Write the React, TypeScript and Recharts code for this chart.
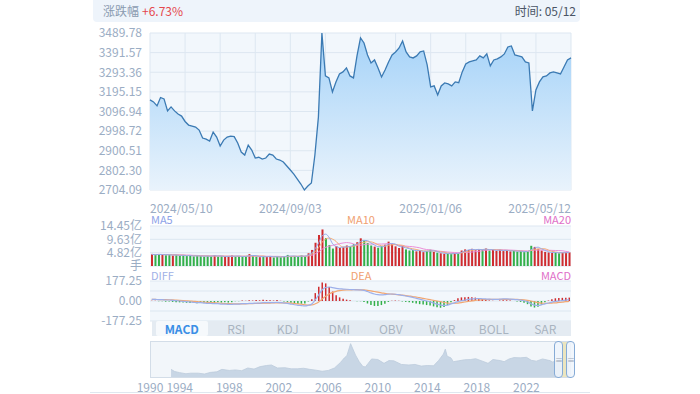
import React from "react";
import { ComposedChart, Area, Line, Bar, Cell, XAxis, YAxis, CartesianGrid } from "recharts";

// dates shown under the price panel (index into the series)
const dateLabels = ["2024/05/10", "2024/09/03", "2025/01/06", "2025/05/12"];
const dateTickIdx = [0, 40, 80, 120];
const gridIdx = [0, 10, 20, 30, 40, 50, 60, 70, 80, 90, 100, 110, 120];
const priceTicks = [2704.09, 2802.3, 2900.51, 2998.72, 3096.94, 3195.15, 3293.36, 3391.57, 3489.78];

const close = [
  3155, 3145, 3125, 3167, 3160, 3100, 3120, 3100, 3084, 3074,
  3047, 3029, 3024, 3019, 3004, 2964, 2959, 2949, 2994, 2969,
  2924, 2954, 2969, 2974, 2971, 2939, 2894, 2879, 2929, 2904,
  2864, 2868, 2859, 2864, 2884, 2879, 2859, 2854, 2844, 2824,
  2804, 2784, 2759, 2734, 2704.09, 2724, 2739, 2879, 3069, 3489.78,
  3275, 3265, 3195, 3245, 3285, 3295, 3315, 3275, 3265, 3375,
  3465, 3440, 3380, 3340, 3355, 3315, 3270, 3305, 3345, 3380,
  3395, 3415, 3450, 3395, 3370, 3365, 3375, 3395, 3400, 3330,
  3220, 3225, 3180, 3225, 3240, 3235, 3225, 3245, 3241, 3295,
  3335, 3345, 3350, 3355, 3375, 3365, 3385, 3325, 3355, 3360,
  3370, 3385, 3420, 3425, 3380, 3375, 3370, 3345, 3340, 3100,
  3205, 3245, 3270, 3275, 3290, 3295, 3290, 3285, 3320, 3355,
  3365,
];

// volume, 亿手
const volume = [
  4.2, 4.0, 4.3, 4.1, 3.9, 4.2, 3.8, 4.0, 3.7, 3.9,
  3.6, 3.8, 3.5, 3.7, 3.6, 3.4, 3.7, 3.5, 3.9, 3.4,
  3.6, 3.3, 3.5, 3.8, 3.4, 3.6, 3.3, 3.5, 4.3, 3.6,
  3.4, 3.2, 3.5, 3.3, 3.6, 3.1, 3.4, 3.2, 3.5, 4.0,
  3.3, 3.6, 3.4, 3.8, 3.5, 4.6, 5.8, 8.4, 11.2, 13.2,
  10.1, 7.6, 6.3, 7.2, 6.5, 6.8, 7.4, 7.0, 7.9, 8.6,
  10.0, 9.2, 8.3, 7.4, 7.0, 6.6, 7.2, 7.7, 8.8, 7.9,
  7.1, 6.5, 7.2, 6.0, 5.6, 5.8, 5.3, 5.6, 5.0, 5.4,
  5.9, 5.1, 4.8, 4.6, 4.4, 4.5, 4.3, 4.7, 4.5, 5.6,
  6.0, 5.8, 6.2, 5.7, 6.1, 5.9, 6.3, 5.6, 5.8, 5.5,
  5.9, 5.4, 5.7, 5.3, 5.5, 5.2, 5.4, 5.0, 5.3, 7.3,
  6.9, 6.2, 5.6, 5.1, 4.9, 4.7, 5.0, 4.6, 4.8, 5.0,
  4.9,
];
const volTicks = [0, 4.82, 9.63, 14.45];

const diff = [
  15, 15, 12, 12, 9, 9, 6, 3, 0, -3,
  -6, -9, -12, -15, -15, -18, -21, -21, -24, -24,
  -27, -27, -30, -30, -27, -27, -24, -24, -21, -21,
  -18, -18, -15, -15, -15, -15, -12, -15, -18, -21,
  -27, -33, -38, -41, -44, -38, -27, 10, 55, 100,
  120, 124, 118, 112, 108, 106, 104, 102, 100, 99,
  98, 94, 84, 72, 62, 56, 54, 56, 60, 62,
  60, 56, 50, 44, 38, 32, 24, 16, 8, 0,
  -8, -18, -28, -36, -40, -36, -26, -16, -6, 2,
  8, 14, 18, 20, 22, 20, 18, 16, 15, 14,
  16, 18, 18, 17, 15, 12, 8, 2, -8, -24,
  -36, -40, -34, -26, -18, -10, -4, 0, 4, 8,
  12,
];
const dea = [
  14, 14, 13, 13, 12, 11, 10, 8, 6, 4,
  2, 0, -3, -5, -8, -10, -12, -14, -16, -18,
  -20, -22, -23, -25, -26, -26, -26, -25, -24, -23,
  -22, -21, -20, -19, -18, -17, -16, -16, -16, -17,
  -19, -22, -25, -29, -33, -36, -35, -25, -8, 18,
  42, 62, 76, 86, 92, 96, 98, 99, 100, 100,
  99, 98, 95, 90, 84, 78, 72, 68, 64, 61,
  58, 55, 52, 48, 44, 40, 35, 30, 24, 18,
  12, 6, 0, -6, -13, -18, -20, -20, -18, -14,
  -9, -4, 1, 5, 9, 11, 13, 14, 14, 14,
  14, 15, 15, 15, 15, 14, 12, 10, 6, 0,
  -7, -14, -18, -20, -20, -18, -16, -13, -10, -6,
  -3,
];
const macdTicks = [-177.25, 0, 177.25];

const tabs = ["MACD", "RSI", "KDJ", "DMI", "OBV", "W&R", "BOLL", "SAR"];

// long-range index history for the navigator
const navYears = [
  1993.3, 1993.6, 1994.0, 1994.5, 1994.9, 1995.5, 1996.0, 1996.5, 1997.0, 1997.4,
  1998.0, 1998.5, 1999.0, 1999.5, 2000.0, 2000.5, 2001.0, 2001.4, 2001.9, 2002.5,
  2003.0, 2003.5, 2004.0, 2004.5, 2005.0, 2005.5, 2006.0, 2006.5, 2007.0, 2007.3,
  2007.5, 2007.8, 2007.95, 2008.2, 2008.5, 2008.8, 2009.0, 2009.5, 2010.0, 2010.5,
  2010.9, 2011.3, 2011.9, 2012.5, 2013.0, 2013.5, 2014.0, 2014.5, 2014.9, 2015.3,
  2015.45, 2015.6, 2015.9, 2016.1, 2016.5, 2017.0, 2017.5, 2017.9, 2018.5, 2018.9,
  2019.3, 2019.9, 2020.2, 2020.6, 2021.0, 2021.5, 2022.0, 2022.4, 2022.8, 2023.3,
  2023.9, 2024.1, 2024.5, 2024.8, 2025.1, 2025.4,
];
const navValues = [
  1400, 1000, 800, 600, 700, 700, 550, 850, 950, 1400,
  1200, 1300, 1150, 1650, 1450, 1900, 2100, 2200, 1650, 1700,
  1500, 1500, 1600, 1400, 1250, 1050, 1200, 1650, 2700, 3500,
  3900, 6100, 5300, 4000, 2800, 1900, 1850, 3300, 3200, 2500,
  3000, 2950, 2300, 2200, 2300, 2000, 2100, 2050, 3000, 4200,
  5100, 3800, 3500, 2800, 2950, 3150, 3200, 3350, 2850, 2500,
  3200, 3000, 2800, 3300, 3550, 3500, 3600, 3050, 2900, 3300,
  3000, 2750, 2950, 3300, 3250, 3370,
];
const navTicks = [1991.6, 1994, 1998, 2002, 2006, 2010, 2014, 2018, 2022];
const navLabels = ["1990", "1994", "1998", "2002", "2006", "2010", "2014", "2018", "2022"];

const FONT = '"Noto Sans CJK SC", "Noto Sans", sans-serif';
const AXIS = "#9badc4";
const RED = "#cf2c2f";
const GREEN = "#33b04a";

function movingAvg(arr: number[], n: number) {
  return arr.map((_, i) => {
    let s = 0;
    let c = 0;
    for (let k = Math.max(0, i - n + 1); k <= i; k++) {
      s += arr[k];
      c++;
    }
    return s / c;
  });
}

const priceData = close.map((c, i) => ({ i, close: c }));
const ma5 = movingAvg(volume, 3);
const ma10 = movingAvg(volume, 5);
const ma20 = movingAvg(volume, 10);
const volData = volume.map((v, i) => ({
  i,
  vol: v,
  up: i === 0 || close[i] >= close[i - 1],
  ma5: ma5[i],
  ma10: ma10[i],
  ma20: ma20[i],
}));
const macdData = diff.map((d, i) => ({ i, diff: d, dea: dea[i], hist: 2 * (d - dea[i]) }));
const navData = navYears.map((y, i) => ({ y, v: navValues[i] }));

const DateTick = (props: any) => {
  const { x, y, payload } = props;
  const k = dateTickIdx.indexOf(payload.value);
  if (k < 0) return <g />;
  const anchor = k === 0 ? "start" : k === dateTickIdx.length - 1 ? "end" : "middle";
  return (
    <text x={x} y={y} dy="0.71em" textAnchor={anchor} fill={AXIS} fontSize={12} fontFamily={FONT}>
      {dateLabels[k]}
    </text>
  );
};

const label = (text: string, color: string, pos: any) => (
  <div style={{ position: "absolute", fontSize: 11, lineHeight: "9px", color, ...pos }}>{text}</div>
);

export default function App() {
  const tickStyle = { fill: AXIS, fontSize: 12, fontFamily: FONT };
  return (
    <div style={{ position: "fixed", left: 0, top: 0, width: 700, height: 394, background: "#fff", fontFamily: FONT, overflow: "hidden" }}>
      {/* header */}
      <div style={{ position: "absolute", left: 93, top: 0, width: 487, height: 22, background: "#eef4fb", borderRadius: "0 0 4px 4px", fontSize: 12, lineHeight: "22px" }}>
        <span style={{ position: "absolute", left: 10, color: "#8a9bb0" }}>涨跌幅</span>
        <span style={{ position: "absolute", left: 49, color: "#e5484d" }}>+6.73%</span>
        <span style={{ position: "absolute", right: 4, color: "#4a5566" }}>时间: 05/12</span>
      </div>

      {/* price */}
      <div style={{ position: "absolute", left: 0, top: 0 }}>
        <ComposedChart width={700} height={222} data={priceData} margin={{ top: 33, right: 129, bottom: 2, left: 90 }}>
          <defs>
            <linearGradient id="pf" x1="0" y1="0" x2="0" y2="1">
              <stop offset="0%" stopColor="#a4d2f8" />
              <stop offset="100%" stopColor="#e9f3fc" />
            </linearGradient>
          </defs>
          <CartesianGrid stroke="#dde7f1" fill="#f2f7fc" />
          <XAxis dataKey="i" type="number" domain={[0, 120]} ticks={gridIdx} interval={0} tick={<DateTick />} tickLine={false} axisLine={false} height={30} tickMargin={8} />
          <YAxis domain={[2704.09, 3489.78]} ticks={priceTicks} interval={0} tickFormatter={(v: number) => v.toFixed(2)} width={60} tick={tickStyle} tickLine={false} axisLine={false} />
          <Area type="linear" dataKey="close" stroke="#3b7ab3" strokeWidth={1.3} fill="url(#pf)" fillOpacity={1} dot={false} activeDot={false} isAnimationActive={false} />
        </ComposedChart>
      </div>

      {label("MA5", "#8da2e8", { left: 151, top: 215 })}
      {label("MA10", "#f0a070", { left: 361, top: 215, transform: "translateX(-50%)" })}
      {label("MA20", "#e070c8", { right: 129, top: 215 })}

      {/* volume */}
      <div style={{ position: "absolute", left: 0, top: 210 }}>
        <ComposedChart width={700} height={66} data={volData} margin={{ top: 16, right: 129, bottom: 10, left: 90 }}>
          <CartesianGrid stroke="#dde7f1" fill="#f2f7fc" vertical={false} />
          <XAxis dataKey="i" hide />
          <YAxis domain={[0, 14.45]} ticks={volTicks} interval={0} tickFormatter={(v: number) => (v === 0 ? "手" : v.toFixed(2) + "亿")} width={60} tick={tickStyle} tickLine={false} axisLine={false} />
          <Bar dataKey="vol" barSize={2} isAnimationActive={false}>
            {volData.map((d, i) => (
              <Cell key={i} fill={d.up ? RED : GREEN} />
            ))}
          </Bar>
          <Line type="monotone" dataKey="ma20" stroke="#ec8fd8" strokeWidth={1} dot={false} activeDot={false} isAnimationActive={false} />
          <Line type="monotone" dataKey="ma10" stroke="#f5ad78" strokeWidth={1} dot={false} activeDot={false} isAnimationActive={false} />
          <Line type="monotone" dataKey="ma5" stroke="#97aaea" strokeWidth={1} dot={false} activeDot={false} isAnimationActive={false} />
        </ComposedChart>
      </div>

      {label("DIFF", "#9fb0e6", { left: 151, top: 271 })}
      {label("DEA", "#f0a070", { left: 361, top: 271, transform: "translateX(-50%)" })}
      {label("MACD", "#e070c8", { right: 129, top: 271 })}

      {/* macd */}
      <div style={{ position: "absolute", left: 0, top: 266 }}>
        <ComposedChart width={700} height={64} data={macdData} margin={{ top: 15, right: 129, bottom: 9, left: 90 }}>
          <CartesianGrid stroke="#dde7f1" fill="#f2f7fc" vertical={false} horizontalValues={[-177.25, -88.6, 0, 88.6, 177.25]} />
          <XAxis dataKey="i" hide />
          <YAxis domain={[-177.25, 177.25]} ticks={macdTicks} interval={0} tickFormatter={(v: number) => v.toFixed(2)} width={60} tick={tickStyle} tickLine={false} axisLine={false} />
          <Bar dataKey="hist" barSize={1.5} isAnimationActive={false}>
            {macdData.map((d, i) => (
              <Cell key={i} fill={d.hist >= 0 ? RED : GREEN} />
            ))}
          </Bar>
          <Line type="monotone" dataKey="dea" stroke="#f2a772" strokeWidth={1.2} dot={false} activeDot={false} isAnimationActive={false} />
          <Line type="monotone" dataKey="diff" stroke="#9db0ea" strokeWidth={1.2} dot={false} activeDot={false} isAnimationActive={false} />
        </ComposedChart>
      </div>

      {/* indicator tabs */}
      <div style={{ position: "absolute", left: 152, top: 321, width: 419, height: 15, background: "#e4ebf2", display: "flex", fontSize: 12, lineHeight: "15px" }}>
        {tabs.map((t, k) => (
          <div
            key={t}
            style={{
              flex: 1,
              textAlign: "center",
              color: k === 0 ? "#3a8ee6" : "#a9b4c0",
              fontWeight: k === 0 ? 700 : 400,
              background: k === 0 ? "#f6f9fc" : "transparent",
              margin: k === 0 ? "0 3px 0 4px" : 0,
              borderRadius: 2,
            }}
          >
            {t}
          </div>
        ))}
      </div>

      {/* navigator */}
      <div style={{ position: "absolute", left: 0, top: 336 }}>
        <ComposedChart width={700} height={58} data={navData} margin={{ top: 6, right: 129, bottom: 0, left: 150 }}>
          <CartesianGrid stroke="#d3dde8" fill="#f2f6fa" horizontal={false} vertical={false} />
          <XAxis dataKey="y" type="number" domain={[1991.6, 2025.6]} ticks={navTicks} interval={0} tickFormatter={(v: number, k: number) => navLabels[k]} tick={tickStyle} tickLine={false} axisLine={false} height={17} tickMargin={0} />
          <YAxis domain={[0, 6400]} hide />
          <Area type="linear" dataKey="v" stroke="#bccbdc" strokeWidth={0.8} fill="#c8d6e5" fillOpacity={1} dot={false} activeDot={false} isAnimationActive={false} />
        </ComposedChart>
      </div>
      <div style={{ position: "absolute", left: 150, top: 341, width: 421, height: 37, border: "1px solid #d3dde8", boxSizing: "border-box", pointerEvents: "none" }} />
      <div style={{ position: "absolute", left: 562, top: 342, width: 5, height: 35, background: "#ebe5bf" }} />
      {[554, 566].map((x) => (
        <div key={x} style={{ position: "absolute", left: x, top: 341, width: 9, height: 37, border: "1px solid #86abd6", borderRadius: 4, boxSizing: "border-box", background: "rgba(238,245,252,0.85)", color: "#9aa8b8", fontSize: 8, lineHeight: "35px", textAlign: "center" }}>
          ≡
        </div>
      ))}
      <div style={{ position: "absolute", left: 90, top: 392, width: 500, height: 1, background: "#dfe7ef" }} />
    </div>
  );
}
